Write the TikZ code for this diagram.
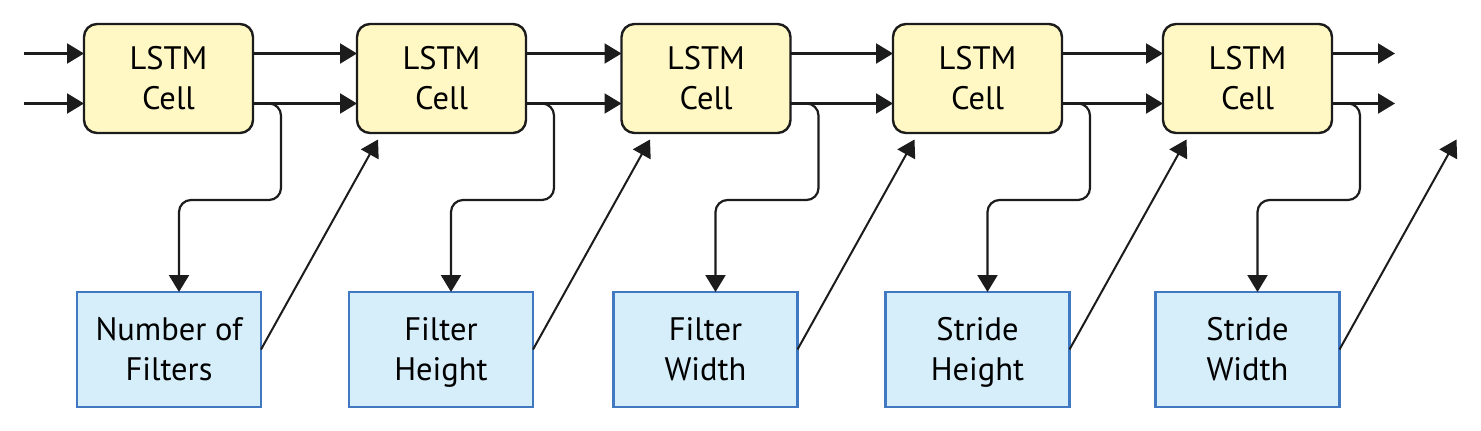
\documentclass[tikz,border=0pt]{standalone}
\usepackage{fontspec}
\setmainfont{PT Sans}
\usetikzlibrary{arrows.meta,calc}
\definecolor{cellfill}{HTML}{FFF8C4}
\definecolor{boxfill}{HTML}{D5EEFA}
\definecolor{boxline}{HTML}{4079C2}
\definecolor{ink}{HTML}{1C1C1C}
\tikzset{
  cellbox/.style={draw=ink, fill=cellfill, line width=2.4pt, rounded corners=13pt,
    minimum width=169pt, minimum height=109pt, inner sep=0pt, outer sep=0pt,
    align=center, font=\fontsize{32.5}{40}\selectfont, text height=62pt, text depth=0pt},
  parambox/.style={draw=boxline, fill=boxfill, line width=2.8pt,
    minimum width=184pt, minimum height=115pt, inner sep=0pt, outer sep=0pt,
    align=center, font=\fontsize{32.5}{40}\selectfont, text height=62pt, text depth=0pt},
  arr/.style={draw=ink, line width=2.2pt, -{Triangle[length=17pt,width=20pt]}},
  fb/.style={arr, rounded corners=12pt},
  diag/.style={draw=ink, line width=2pt, -{Triangle[length=17pt,width=20pt]}}
}
\begin{document}
\begin{tikzpicture}[x=1pt,y=-1pt]
\useasboundingbox[fill=white] (0,0) rectangle (1481,431);
% cells
\node[cellbox] (c1) at (168.5,78.5) {LSTM\\Cell};
\node[cellbox] (c2) at (441.5,78.5) {LSTM\\Cell};
\node[cellbox] (c3) at (706,78.5) {LSTM\\Cell};
\node[cellbox] (c4) at (977.5,78.5) {LSTM\\Cell};
\node[cellbox] (c5) at (1247.5,78.5) {LSTM\\Cell};
% parameter boxes
\node[parambox] (b1) at (169,349.5) {Number of\\Filters};
\node[parambox] (b2) at (441,349.5) {Filter\\Height};
\node[parambox] (b3) at (705.5,349.5) {Filter\\Width};
\node[parambox] (b4) at (977.5,349.5) {Stride\\Height};
\node[parambox] (b5) at (1247.5,349.5) {Stride\\Width};
% free ends
\coordinate (inA) at (24,53.5);
\coordinate (inB) at (24,103.5);
\coordinate (outA) at (1395,53.5);
\coordinate (outB) at (1395,103.5);
% inputs / outputs
\draw[arr] (inA) -- ([yshift=25pt]c1.west);
\draw[arr] (inB) -- ([yshift=-25pt]c1.west);
\draw[arr] ([yshift=25pt]c5.east) -- (outA);
\draw[arr] ([yshift=-25pt]c5.east) -- (outB);
% chain
\foreach \a/\b in {c1/c2,c2/c3,c3/c4,c4/c5}{
  \draw[arr] ([yshift=25pt]\a.east) -- ([yshift=25pt]\b.west);
  \draw[arr] ([yshift=-25pt]\a.east) -- ([yshift=-25pt]\b.west);
}
% feedback to parameter boxes
\foreach \i in {1,...,5}{
  \coordinate (d\i) at ([xshift=10pt]b\i.north);
  \draw[fb] ([yshift=-25pt]c\i.east) -- ++(28,0) |- (d\i |- 0,200) -- (d\i);
  \coordinate (t\i) at ($(b\i.east)+(117,-210)$);
  \draw[diag] (b\i.east) -- (t\i);
}
\end{tikzpicture}
\end{document}
